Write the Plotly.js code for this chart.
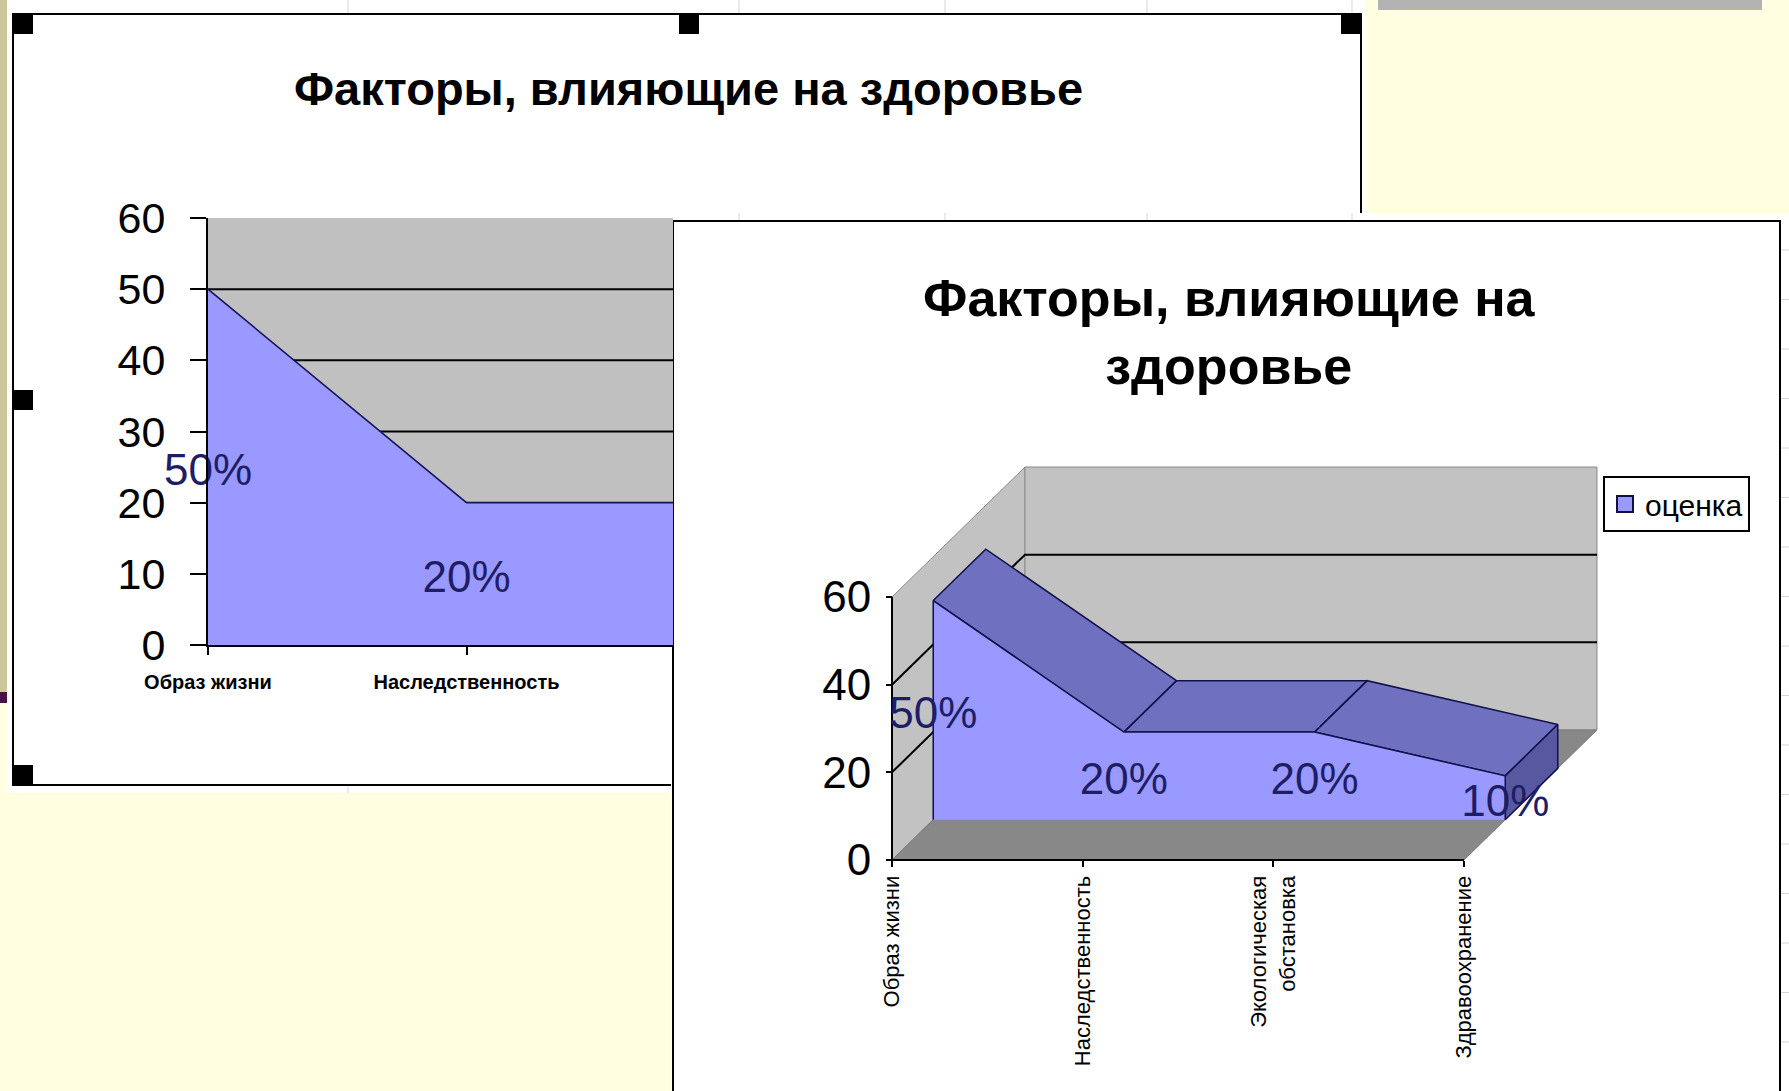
<!DOCTYPE html>
<html>
<head>
<meta charset="utf-8">
<script src="https://cdn.plot.ly/plotly-3.0.1.min.js"></script>
<style>
  html, body { margin: 0; padding: 0; background: #FFFEE0; }
  #chart { width: 1789px; height: 1091px; }
</style>
</head>
<body>
<div id="chart"></div>
<script>
// ---------------- DATA ----------------
const categories = ["Образ жизни", "Наследственность", "Экологическая обстановка", "Здравоохранение"];
const values = [50, 20, 20, 10];
const seriesName = "оценка";
const chartTitle = "Факторы, влияющие на здоровье";
const yTicks1 = [0, 10, 20, 30, 40, 50, 60];
const yTicks2 = [0, 20, 40, 60];

// ---------------- LAYOUT HELPERS ----------------
const W = 1789, H = 1091;
const px = x => x / W;
const py = y => 1 - y / H;
const FONT = "Liberation Sans, Arial, sans-serif";

const wrapLabel = c => (c.length > 14 && c.indexOf(' ') > 0) ? c.replace(' ', '<br>') : c;
const ticktext = categories.map(wrapLabel);
const idx = categories.map((c, i) => i);
const labels = values.map(v => v + '%');
const wrapTitle = t => t.slice(0, t.lastIndexOf(' ')) + '<br>' + t.slice(t.lastIndexOf(' ') + 1);

// chart 1 geometry (pixels)
const c1 = { left: 208, right: 673, top: 218, bottom: 645, catPx: 258.5 };
c1.unitPx = (c1.bottom - c1.top) / 60;
// chart 2 geometry (pixels) — oblique pseudo-3D
const c2 = { left: 892, bottom: 860, top60: 597, catPx: 190.67 };
c2.unitPx = (c2.bottom - c2.top60) / 60;
const DX = 133 / c2.catPx;      // full depth in category units
const DY = 130 / c2.unitPx;     // full depth in value units
const d1 = 0.31, d2 = 0.705;    // series front / back depth fraction
const nCat = categories.length - 1;
const labelDrop = 7;            // px: text baseline correction for data labels

const half1 = values.map(v => v / 2 - labelDrop / c1.unitPx);
const half2 = values.map(v => v / 2 - labelDrop / c2.unitPx);

// ---------------- TRACES ----------------
const traces = [];

// Chart 1: area
traces.push({
  x: idx, y: values, type: 'scatter', mode: 'lines', fill: 'tozeroy',
  fillcolor: '#9999FF', line: { color: '#14145a', width: 1.5 },
  xaxis: 'x', yaxis: 'y', showlegend: false, hoverinfo: 'skip'
});
traces.push({
  x: idx, y: half1, text: labels, type: 'scatter', mode: 'text',
  textfont: { family: FONT, size: 44, color: '#1e1e66' }, cliponaxis: false,
  xaxis: 'x', yaxis: 'y', showlegend: false, hoverinfo: 'skip'
});

// Chart 2: walls
const wallStyle = { fill: 'toself', fillcolor: '#C2C2C2', line: { color: '#8a8a8a', width: 1 }, mode: 'lines',
  type: 'scatter', xaxis: 'x2', yaxis: 'y2', showlegend: false, hoverinfo: 'skip' };
const yMax = yTicks2[yTicks2.length - 1];
traces.push(Object.assign({}, wallStyle, { x: [0, 0, DX, DX, 0], y: [0, yMax, yMax + DY, DY, 0] }));
traces.push(Object.assign({}, wallStyle, { x: [DX, nCat + DX, nCat + DX, DX, DX], y: [DY, DY, yMax + DY, yMax + DY, DY] }));
traces.push(Object.assign({}, wallStyle, { x: [0, nCat, nCat + DX, DX, 0], y: [0, 0, DY, DY, 0], fillcolor: '#888888', line: { color: '#7a7a7a', width: 1 } }));

// wall gridlines
const gx = [], gy = [];
yTicks2.filter(v => v > 0 && v < yMax).forEach(v => {
  gx.push(0, DX, nCat + DX, null); gy.push(v, v + DY, v + DY, null);
});
traces.push({ x: gx, y: gy, type: 'scatter', mode: 'lines', line: { color: '#000', width: 2 },
  xaxis: 'x2', yaxis: 'y2', showlegend: false, hoverinfo: 'skip' });

// ribbon (top faces)
const rx = [], ry = [];
for (let i = 0; i < nCat; i++) {
  rx.push(i + d1 * DX, i + 1 + d1 * DX, i + 1 + d2 * DX, i + d2 * DX, i + d1 * DX, null);
  ry.push(values[i] + d1 * DY, values[i + 1] + d1 * DY, values[i + 1] + d2 * DY, values[i] + d2 * DY, values[i] + d1 * DY, null);
}
traces.push({ x: rx, y: ry, type: 'scatter', mode: 'lines', fill: 'toself', fillcolor: '#7070C0',
  line: { color: '#10104a', width: 1.5 }, xaxis: 'x2', yaxis: 'y2', showlegend: false, hoverinfo: 'skip' });

// end face
const vl = values[nCat];
traces.push({
  x: [nCat + d1 * DX, nCat + d2 * DX, nCat + d2 * DX, nCat + d1 * DX, nCat + d1 * DX],
  y: [vl + d1 * DY, vl + d2 * DY, d2 * DY, d1 * DY, vl + d1 * DY],
  type: 'scatter', mode: 'lines', fill: 'toself', fillcolor: '#5858A0',
  line: { color: '#10104a', width: 1.5 }, xaxis: 'x2', yaxis: 'y2', showlegend: false, hoverinfo: 'skip'
});

// front face
const fx = [d1 * DX].concat(idx.map(i => i + d1 * DX), [nCat + d1 * DX]);
const fy = [d1 * DY].concat(values.map(v => v + d1 * DY), [d1 * DY]);
traces.push({ x: fx, y: fy, type: 'scatter', mode: 'lines', fill: 'toself', fillcolor: '#9999FF',
  line: { color: 'rgba(0,0,0,0)', width: 0 }, xaxis: 'x2', yaxis: 'y2', showlegend: false, hoverinfo: 'skip' });
traces.push({ x: fx, y: fy, type: 'scatter', mode: 'lines',
  line: { color: '#10104a', width: 1.5 }, xaxis: 'x2', yaxis: 'y2', showlegend: false, hoverinfo: 'skip' });

// front axis lines
traces.push({ x: [0, 0, nCat], y: [yMax, 0, 0], type: 'scatter', mode: 'lines', line: { color: '#000', width: 2 },
  xaxis: 'x2', yaxis: 'y2', showlegend: false, hoverinfo: 'skip' });

// data labels
traces.push({
  x: idx.map(i => i + d1 * DX), y: half2.map(h => h + d1 * DY), text: labels, type: 'scatter', mode: 'text',
  textfont: { family: FONT, size: 44, color: '#1e1e66' }, cliponaxis: false,
  xaxis: 'x2', yaxis: 'y2', showlegend: false, hoverinfo: 'skip'
});

// legend entry
traces.push({ x: [null], y: [null], type: 'scatter', mode: 'markers', name: seriesName,
  marker: { symbol: 'square', size: 16, color: '#9999FF', line: { color: '#101040', width: 2 } },
  xaxis: 'x2', yaxis: 'y2', showlegend: true, hoverinfo: 'skip' });

// ---------------- SHAPES ----------------
const shapes = [];
const rect = (x0, y0, x1, y1, fill, line) => ({ type: 'rect', xref: 'paper', yref: 'paper',
  x0: px(x0), x1: px(x1), y0: py(y1), y1: py(y0), fillcolor: fill,
  line: line || { width: 0 }, layer: 'below' });
const vline = (x, y0, y1, color) => ({ type: 'line', xref: 'paper', yref: 'paper',
  x0: px(x), x1: px(x), y0: py(y0), y1: py(y1), line: { color: color, width: 1 }, layer: 'below' });
const hline = (y, x0, x1, color) => ({ type: 'line', xref: 'paper', yref: 'paper',
  x0: px(x0), x1: px(x1), y0: py(y), y1: py(y), line: { color: color, width: 1 }, layer: 'below' });

shapes.push(rect(0, 0, 7, 692, '#CBC79B'));
shapes.push(rect(0, 692, 7, 703, '#4A1048'));
shapes.push(rect(1378, 0, 1762, 10, '#B3B3B3'));
// sheet 1
shapes.push(rect(7, 0, 1366, 793, '#FFFFFF'));
[348, 739, 945, 1147, 1352].forEach(x => shapes.push(vline(x, 0, 793, '#D6D6D6')));
// chart 1 frame
shapes.push(rect(13, 14, 1361, 785, '#FFFFFF', { color: '#000', width: 2 }));
[[13, 14], [679, 14], [1341, 14], [13, 390], [13, 765]].forEach(h =>
  shapes.push(rect(h[0], h[1], h[0] + 20, h[1] + 20, '#000')));
// sheet 2
shapes.push(rect(671, 213, 1789, 1091, '#FFFFFF'));
[739, 945, 1147, 1352].forEach(x => shapes.push(vline(x, 213, 1091, '#D6D6D6')));
for (let y = 250; y < 1091; y += 49.5) shapes.push(hline(y, 1700, 1789, '#D6D6D6'));
// chart 2 frame
shapes.push(rect(673, 221, 1780, 1100, '#FFFFFF', { color: '#000', width: 2 }));

// chart 1 plot background + gridlines (subplot-referenced)
shapes.push({ type: 'rect', xref: 'x domain', yref: 'y domain', x0: 0, x1: 1, y0: 0, y1: 1,
  fillcolor: '#C0C0C0', line: { width: 0 }, layer: 'below' });
yTicks1.filter(v => v > 0 && v < 60).forEach(v => shapes.push({ type: 'line', xref: 'x domain', yref: 'y',
  x0: 0, x1: 1, y0: v, y1: v, line: { color: '#000', width: 2 }, layer: 'below' }));

// ---------------- LAYOUT ----------------
const layout = {
  width: W, height: H, autosize: false,
  margin: { l: 0, r: 0, t: 0, b: 0, pad: 0 },
  paper_bgcolor: '#FFFEE0', plot_bgcolor: 'rgba(0,0,0,0)',
  font: { family: FONT, color: '#000' },
  showlegend: true,
  legend: { x: px(1603), y: py(476), xanchor: 'left', yanchor: 'top', bgcolor: '#FFFFFF',
    bordercolor: '#000', borderwidth: 2, font: { family: FONT, size: 30, color: '#000' }, itemwidth: 30 },
  xaxis: {
    domain: [px(c1.left), px(c1.right)], range: [0, (c1.right - c1.left) / c1.catPx],
    tickvals: idx, ticktext: ticktext, tickangle: 0, ticks: 'outside', ticklen: 8, tickwidth: 2, tickcolor: '#000',
    showline: true, linecolor: '#000', linewidth: 2, showgrid: false, zeroline: false, anchor: 'y',
    tickfont: { family: FONT, size: 20, color: '#000', weight: 'bold' }, ticklabelstandoff: 10, fixedrange: true
  },
  yaxis: {
    domain: [py(c1.bottom), py(c1.top)], range: [0, 60], tickvals: yTicks1,
    ticks: 'outside', ticklen: 16, tickwidth: 2, tickcolor: '#000',
    showline: true, linecolor: '#000', linewidth: 2, showgrid: false, zeroline: false, anchor: 'x',
    tickfont: { family: FONT, size: 43, color: '#000' }, ticklabelstandoff: 16, fixedrange: true
  },
  xaxis2: {
    domain: [px(c2.left - 0.3 * c2.catPx), px(1612)], range: [-0.3, (1612 - c2.left) / c2.catPx],
    anchor: 'free', position: py(c2.bottom),
    tickvals: idx, ticktext: ticktext, tickangle: -90, ticks: 'outside', ticklen: 6, tickwidth: 2, tickcolor: '#000',
    showline: false, showgrid: false, zeroline: false,
    tickfont: { family: FONT, size: 22, color: '#000' }, fixedrange: true
  },
  yaxis2: {
    domain: [py(c2.bottom + c2.unitPx), py(440)], range: [-1, (c2.bottom - 440) / c2.unitPx],
    anchor: 'free', position: px(c2.left),
    tickvals: yTicks2, ticks: 'outside', ticklen: 6, tickwidth: 2, tickcolor: '#000',
    showline: false, showgrid: false, zeroline: false,
    tickfont: { family: FONT, size: 44, color: '#000' }, ticklabelstandoff: 6, fixedrange: true
  },
  shapes: shapes,
  annotations: [
    { text: chartTitle, xref: 'paper', yref: 'paper', x: px(688), y: py(89), xanchor: 'center', yanchor: 'middle',
      showarrow: false, font: { family: FONT, size: 47, color: '#000', weight: 'bold' } },
    { text: wrapTitle(chartTitle), xref: 'paper', yref: 'paper', x: px(1229), y: py(332), xanchor: 'center', yanchor: 'middle',
      showarrow: false, font: { family: FONT, size: 52, color: '#000', weight: 'bold' } }
  ]
};

Plotly.newPlot('chart', traces, layout, { displayModeBar: false, staticPlot: true });
</script>
</body>
</html>
